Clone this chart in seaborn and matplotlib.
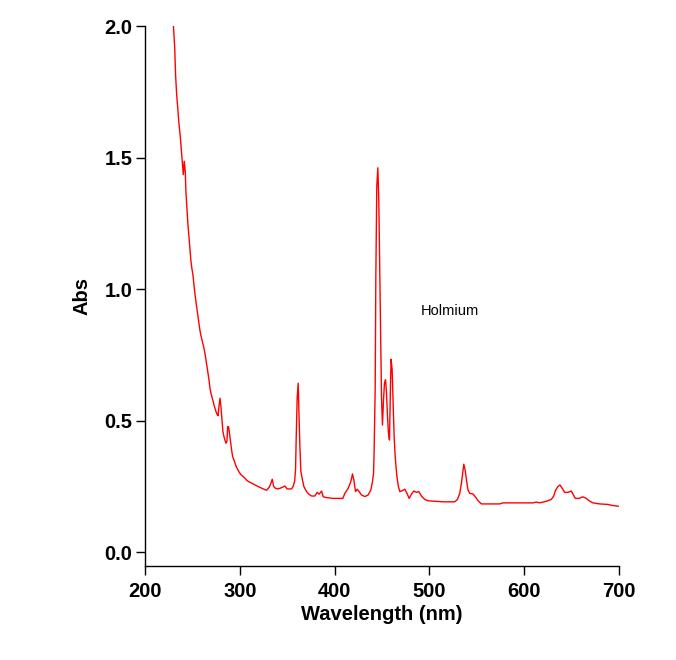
import matplotlib
matplotlib.use("Agg")
import matplotlib.pyplot as plt
import seaborn as sns
import pandas as pd

wavelength = [230.0, 231.3, 232.3, 233.4, 234.5, 235.8, 237.2, 238.3, 239.3, 240.4,
              241.4, 242.5, 243.2, 244.3, 245.3, 246.4, 247.4, 248.5, 249.5, 250.6,
              251.6, 252.7, 253.8, 254.8, 255.9, 256.9, 258.0, 259.0, 260.1, 261.1,
              262.2, 263.2, 264.3, 265.4, 266.4, 267.5, 268.5, 269.6, 270.6, 271.7,
              272.7, 273.8, 274.9, 275.9, 277.0, 278.0, 279.1, 280.1, 281.2, 282.2,
              283.3, 284.3, 285.4, 286.4, 287.2, 288.2, 289.3, 290.3, 291.4, 292.4,
              293.8, 294.9, 296.2, 297.7, 299.1, 300.8, 303.0, 305.4, 307.8, 310.7,
              314.2, 317.7, 321.2, 324.7, 328.3, 331.0, 333.1, 334.2, 335.7, 337.8,
              340.5, 344.1, 347.6, 350.0, 354.6, 356.3, 357.8, 358.8, 359.5, 360.5,
              361.6, 362.3, 363.4, 364.4, 365.8, 367.6, 370.4, 372.9, 375.7, 379.2,
              381.6, 383.7, 386.3, 388.0, 391.5, 398.5, 405.5, 408.7, 410.8, 414.3,
              417.1, 418.9, 420.3, 422.1, 423.8, 425.9, 428.4, 431.9, 435.4, 438.2,
              440.0, 441.1, 441.7, 442.8, 443.5, 444.5, 445.6, 446.6, 447.7, 448.7,
              449.5, 450.5, 451.6, 452.6, 453.7, 454.7, 455.8, 456.8, 457.9, 459.0,
              459.6, 460.7, 461.7, 462.8, 463.8, 464.9, 466.0, 467.3, 468.8, 471.2,
              474.0, 476.4, 478.6, 481.1, 483.5, 486.3, 488.8, 491.6, 495.1, 498.6,
              511.0, 514.5, 526.8, 529.6, 532.0, 533.8, 534.9, 536.3, 537.7, 539.1,
              540.7, 542.6, 546.0, 548.9, 551.3, 554.9, 574.2, 577.7, 609.3, 612.8,
              616.3, 623.3, 628.6, 631.1, 633.2, 635.6, 637.7, 640.2, 642.7, 646.1,
              649.7, 651.4, 653.9, 657.7, 661.9, 665.5, 669.0, 672.5, 679.6, 688.4,
              691.9, 699.6]
absorbance = [2.00, 1.92, 1.81, 1.74, 1.69, 1.63, 1.58, 1.53, 1.48, 1.435,
              1.486, 1.445, 1.368, 1.30, 1.245, 1.197, 1.156, 1.105, 1.077, 1.054,
              1.016, 0.981, 0.950, 0.924, 0.896, 0.870, 0.842, 0.823, 0.807, 0.791,
              0.775, 0.756, 0.731, 0.705, 0.680, 0.655, 0.623, 0.604, 0.589, 0.576,
              0.560, 0.547, 0.534, 0.525, 0.518, 0.553, 0.585, 0.553, 0.502, 0.458,
              0.439, 0.426, 0.414, 0.420, 0.477, 0.476, 0.445, 0.414, 0.388, 0.363,
              0.350, 0.338, 0.325, 0.315, 0.305, 0.296, 0.289, 0.281, 0.271, 0.265,
              0.259, 0.252, 0.246, 0.240, 0.235, 0.246, 0.264, 0.277, 0.249, 0.242,
              0.240, 0.245, 0.251, 0.240, 0.240, 0.250, 0.268, 0.312, 0.433, 0.585,
              0.642, 0.540, 0.400, 0.306, 0.280, 0.249, 0.230, 0.220, 0.213, 0.213,
              0.227, 0.220, 0.232, 0.210, 0.207, 0.204, 0.204, 0.204, 0.223, 0.242,
              0.268, 0.297, 0.274, 0.230, 0.239, 0.230, 0.217, 0.211, 0.217, 0.236,
              0.268, 0.300, 0.382, 0.617, 1.048, 1.391, 1.461, 1.340, 1.061, 0.781,
              0.585, 0.483, 0.579, 0.642, 0.655, 0.610, 0.515, 0.452, 0.426, 0.642,
              0.733, 0.693, 0.566, 0.439, 0.369, 0.319, 0.280, 0.249, 0.230, 0.233,
              0.239, 0.223, 0.204, 0.220, 0.232, 0.227, 0.230, 0.213, 0.200, 0.195,
              0.192, 0.191, 0.191, 0.200, 0.223, 0.262, 0.293, 0.334, 0.312, 0.274,
              0.236, 0.223, 0.221, 0.208, 0.195, 0.183, 0.183, 0.187, 0.187, 0.190,
              0.187, 0.193, 0.200, 0.213, 0.236, 0.249, 0.255, 0.242, 0.227, 0.227,
              0.232, 0.221, 0.204, 0.204, 0.210, 0.204, 0.194, 0.187, 0.183, 0.181,
              0.178, 0.174]

x_ticks = [200, 300, 400, 500, 600, 700]
y_ticks = [0.0, 0.5, 1.0, 1.5, 2.0]
y_tick_labels = ["0.0", "0.5", "1.0", "1.5", "2.0"]

sns.set_style("ticks")
plt.rcParams['font.family'] = ['Liberation Sans', 'DejaVu Sans']

df = pd.DataFrame({"Wavelength": wavelength, "Abs": absorbance})

fig = plt.figure(figsize=(6.76, 6.60), dpi=100)
ax = fig.add_axes([145 / 676, 1 - 566 / 660, (619 - 145) / 676, (566 - 26) / 660])

sns.lineplot(data=df, x="Wavelength", y="Abs", ax=ax, color="#ff0000",
             linewidth=1.0, estimator=None, sort=False)

ax.set_xlim(200, 700)
ax.set_ylim(-0.053, 2.0)
ax.set_xticks(x_ticks)
ax.set_xticklabels([str(t) for t in x_ticks])
ax.set_yticks(y_ticks)
ax.set_yticklabels(y_tick_labels)

for side in ("top", "right"):
    ax.spines[side].set_visible(False)
for side in ("left", "bottom"):
    ax.spines[side].set_color("black")
    ax.spines[side].set_linewidth(1.0)

ax.tick_params(axis="both", direction="out", length=6.5, width=1.0, color="black",
               labelsize=14.5, labelcolor="black")
ax.tick_params(axis="x", pad=5)
ax.tick_params(axis="y", pad=2.5)
for lbl in ax.get_xticklabels() + ax.get_yticklabels():
    lbl.set_fontweight("bold")

ax.set_xlabel("Wavelength (nm)", fontsize=14.5, fontweight="bold", labelpad=3,
              color="black")
ax.set_ylabel("Abs", fontsize=14.5, fontweight="bold", labelpad=9, color="black")

ax.text(490.9, 0.918, "Holmium", fontsize=10.5, ha="left", va="center", color="black")

fig.savefig("out.png", dpi=100)
